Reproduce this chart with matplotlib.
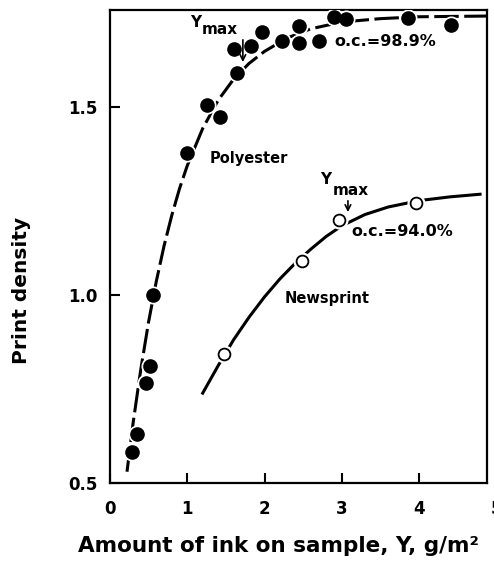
import matplotlib.pyplot as plt
from matplotlib.transforms import blended_transform_factory

# polyester: measured points (filled) and the drawn fit curve
poly_x = [0.28, 0.345, 0.47, 0.52, 0.56, 1.0, 1.25, 1.42, 1.60, 1.65, 1.83, 1.97,
          2.23, 2.44, 2.45, 2.71, 2.90, 3.06, 3.86, 4.42]
poly_y = [0.583, 0.63, 0.765, 0.811, 1.0, 1.378, 1.505, 1.474, 1.653, 1.59, 1.662, 1.70,
          1.676, 1.715, 1.669, 1.676, 1.74, 1.733, 1.736, 1.718]
poly_curve_x = [0.22, 0.30, 0.40, 0.50, 0.60, 0.70, 0.80, 0.90, 1.00, 1.20, 1.40, 1.60,
                1.80, 2.00, 2.30, 2.60, 3.00, 3.50, 4.00, 4.92]
poly_curve_y = [0.530, 0.661, 0.804, 0.929, 1.037, 1.131, 1.212, 1.283, 1.344, 1.443,
                1.518, 1.574, 1.616, 1.648, 1.684, 1.708, 1.726, 1.735, 1.740, 1.742]

# newsprint: measured points (open) and fit curve
news_x = [1.47, 2.49, 2.97, 3.96]
news_y = [0.842, 1.091, 1.20, 1.245]
news_curve_x = [1.20, 1.40, 1.60, 1.80, 2.00, 2.20, 2.40, 2.60, 2.80, 3.00, 3.30,
                3.60, 4.00, 4.40, 4.79]
news_curve_y = [0.739, 0.812, 0.881, 0.941, 0.995, 1.043, 1.085, 1.122, 1.156, 1.184,
                1.214, 1.234, 1.251, 1.261, 1.268]

x_ticks = [0, 1, 2, 3, 4]
y_ticks = [0.5, 1.0, 1.5]

plt.rcParams['font.family'] = 'DejaVu Sans'
plt.rcParams['font.weight'] = 'bold'

fig = plt.figure(figsize=(4.94, 5.63), dpi=100)
ax = fig.add_axes([110 / 494, 1 - 483 / 563, 377 / 494, 473 / 563])

ax.plot(poly_curve_x, poly_curve_y, color='black', lw=2.2, ls=(0, (8, 1.8)), zorder=2)
ax.plot(news_curve_x, news_curve_y, color='black', lw=2.2, zorder=2)

# white halos so the curves break around the markers
ax.plot(poly_x, poly_y, 'o', ms=12, color='white', zorder=3)
ax.plot(news_x, news_y, 'o', ms=12, color='white', zorder=3)
ax.plot(poly_x, poly_y, 'o', ms=9.5, color='black', zorder=4)
ax.plot(news_x, news_y, 'o', ms=8.5, mfc='white', mec='black', mew=1.3, zorder=4)

ax.set_xlim(0, 4.88)
ax.set_ylim(0.5, 1.758)
ax.set_xticks(x_ticks)
ax.set_yticks(y_ticks)
ax.set_xticklabels([str(t) for t in x_ticks], fontsize=12, fontweight='bold')
ax.set_yticklabels(['0.5', '1.0', '1.5'], fontsize=12, fontweight='bold')
ax.tick_params(direction='in', length=7, width=1.5, pad=9)
ax.tick_params(axis='x', pad=12)
for s in ax.spines.values():
    s.set_linewidth(1.6)

# "5" sits just past the cropped right edge
tr = blended_transform_factory(ax.transData, ax.get_xticklabels()[0].get_transform())
ax.text(5, 0, '5', transform=tr, ha='center', va='top', fontsize=12,
        fontweight='bold', clip_on=False)

ax.text(1.29, 1.364, 'Polyester', fontsize=10.5, fontweight='bold', va='center')
ax.text(2.26, 0.99, 'Newsprint', fontsize=10.5, fontweight='bold', va='center')
ax.text(2.91, 1.673, 'o.c.=98.9%', fontsize=11.5, fontweight='bold', va='center')
ax.text(3.13, 1.168, 'o.c.=94.0%', fontsize=11.5, fontweight='bold', va='center')

ax.text(1.035, 1.726, 'Y', fontsize=11, fontweight='bold', va='center')
ax.text(1.19, 1.707, 'max', fontsize=11, fontweight='bold', va='center')
ax.annotate('', xy=(1.72, 1.612), xytext=(1.72, 1.686),
            arrowprops=dict(arrowstyle='->', lw=1.2, color='black'))
ax.text(2.72, 1.306, 'Y', fontsize=11, fontweight='bold', va='center')
ax.text(2.885, 1.277, 'max', fontsize=11, fontweight='bold', va='center')
ax.annotate('', xy=(3.08, 1.213), xytext=(3.08, 1.258),
            arrowprops=dict(arrowstyle='->', lw=1.2, color='black'))

fig.text(22 / 494, 1 - 290 / 563, 'Print density', rotation=90, fontsize=14.5,
         fontweight='bold', ha='center', va='center')
fig.text(78 / 494, 1 - 552 / 563, 'Amount of ink on sample, Y, g/m\u00b2', fontsize=15.5,
         fontweight='bold', ha='left', va='baseline')

fig.savefig('out.png', dpi=100)
